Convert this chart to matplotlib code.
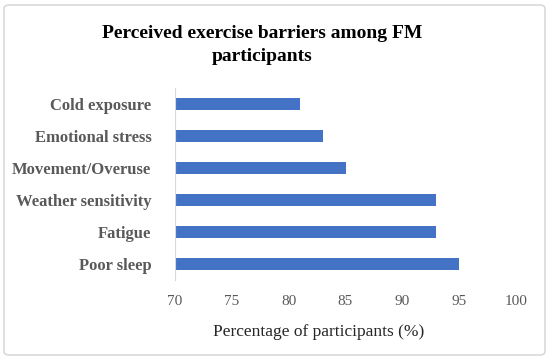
import matplotlib.pyplot as plt
from matplotlib.patches import FancyBboxPatch

# data, bottom to top
categories = ["Poor sleep", "Fatigue", "Weather sensitivity",
              "Movement/Overuse", "Emotional stress", "Cold exposure"]
values = [95, 93, 93, 85, 83, 81]
xticks = [70, 75, 80, 85, 90, 95, 100]

plt.rcParams['font.family'] = ['Liberation Serif', 'DejaVu Serif']

fig = plt.figure(figsize=(5.5, 3.59), dpi=100)
ax = fig.add_axes([175 / 550, 1 - 280 / 359, (516 - 175) / 550, (280 - 88) / 359])

# light rounded border around the whole picture
fig.patches.append(FancyBboxPatch((4 / 550, 4 / 359), 541 / 550, 350 / 359,
                                  boxstyle="round,pad=0,rounding_size=0.01",
                                  transform=fig.transFigure, fill=False,
                                  edgecolor='#d9d9d9', linewidth=1.2))

# bars start at the axis minimum
ax.barh(range(len(categories)), [v - 70 for v in values], left=70,
        height=0.35, color='#4472C4')

ax.set_xlim(70, 100)
ax.set_ylim(-0.5, len(categories) - 0.5)
ax.set_xticks(xticks)
ax.set_xticklabels([str(t) for t in xticks], color='#595959', fontsize=11)
ax.set_yticks(range(len(categories)))
ax.set_yticklabels(categories, color='#595959', fontsize=12, fontweight='bold')
ax.tick_params(length=0, pad=11, axis='x')
ax.tick_params(length=0, pad=17, axis='y')

for s in ['top', 'right', 'bottom']:
    ax.spines[s].set_visible(False)
ax.spines['left'].set_color('#d9d9d9')

ax.set_xlabel("Percentage of participants (%)", fontsize=12.5, color='#262626', labelpad=9)
ax.xaxis.set_label_coords(0.42, -0.23)
fig.text(262 / 550, 1 - 45 / 359, "Perceived exercise barriers among FM\nparticipants",
         ha='center', va='center', fontsize=14, fontweight='bold',
         color='black', linespacing=1.45)

fig.savefig('out.png', dpi=100)
